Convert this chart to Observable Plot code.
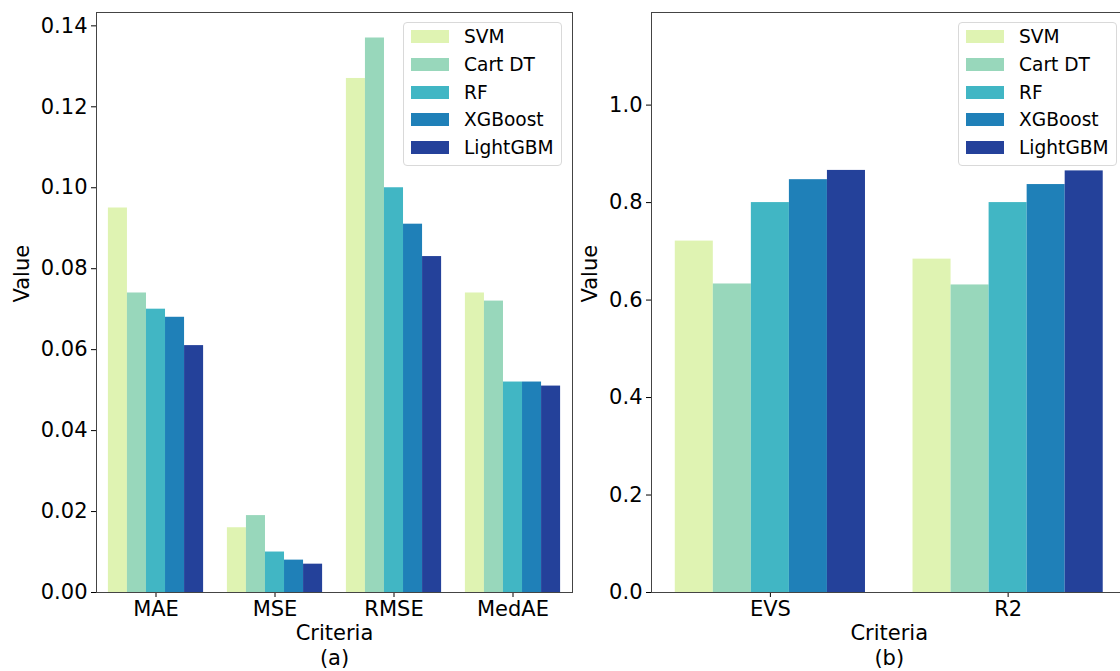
<!DOCTYPE html>
<html>
<head>
<meta charset="utf-8">
<script src="https://cdn.jsdelivr.net/npm/d3@7"></script>
<script src="https://cdn.jsdelivr.net/npm/@observablehq/plot@0.6"></script>
<style>
  html, body { margin: 0; padding: 0; background: #fff; overflow: hidden; }
  #root { position: relative; width: 1120px; height: 671px; overflow: hidden; font-family: "DejaVu Sans", sans-serif; }
  .panel { position: absolute; top: 0; width: 590px; height: 671px; }
  .panel svg { max-width: none !important; display: block; }
  .legend { position: absolute; border: 1px solid #d9d9d9; border-radius: 4px; background: rgba(255,255,255,0.85);
            box-sizing: border-box; padding: 0 0 0 7px; font-size: 18.6px; color: #000; }
  .legend .row { display: flex; align-items: center; height: 27.7px; }
  .legend .sw { width: 38px; height: 13px; margin-right: 15px; }
</style>
</head>
<body>
<div id="root"></div>
<script>
// ---- data ----
const models = ["SVM", "Cart DT", "RF", "XGBoost", "LightGBM"];
const colors = ["#dff3b2", "#98d7bb", "#41b6c4", "#1f80b8", "#24419a"];

const criteriaA = ["MAE", "MSE", "RMSE", "MedAE"];
const svmA      = [0.095, 0.016, 0.127, 0.074];
const cartA     = [0.074, 0.019, 0.137, 0.072];
const rfA       = [0.070, 0.010, 0.100, 0.052];
const xgbA      = [0.068, 0.008, 0.091, 0.052];
const lgbmA     = [0.061, 0.007, 0.083, 0.051];
const ticksA    = [0, 0.02, 0.04, 0.06, 0.08, 0.10, 0.12, 0.14];

const criteriaB = ["EVS", "R2"];
const svmB      = [0.721, 0.684];
const cartB     = [0.633, 0.631];
const rfB       = [0.800, 0.800];
const xgbB      = [0.847, 0.837];
const lgbmB     = [0.866, 0.865];
const ticksB    = [0, 0.2, 0.4, 0.6, 0.8, 1.0];

function rowsOf(criteria, seriesList) {
  const rows = [];
  seriesList.forEach((vals, mi) => vals.forEach((v, ci) =>
    rows.push({ci, mi, criterion: criteria[ci], model: models[mi], value: v})));
  return rows;
}

const barW = 0.8 / models.length;

function panel({criteria, series, yMax, yTicks, yFmt, width, marginLeft, marginRight, sub, valueDx}) {
  const rows = rowsOf(criteria, series);
  return Plot.plot({
    width, height: 671,
    marginTop: 12, marginBottom: 79, marginLeft, marginRight,
    style: {fontFamily: "DejaVu Sans, sans-serif", fontSize: "21px", color: "#000", background: "transparent", overflow: "visible", maxWidth: "none"},
    x: {domain: [-0.5, criteria.length - 0.5], ticks: criteria.map((_, i) => i), tickFormat: i => criteria[i],
        tickSize: 5, tickPadding: 4, label: null},
    y: {domain: [0, yMax], ticks: yTicks, tickFormat: yFmt, tickSize: 5, tickPadding: 4, label: null},
    color: {domain: models, range: colors},
    marks: [
      Plot.rect(rows, {
        x1: d => d.ci + (d.mi - models.length / 2) * barW,
        x2: d => d.ci + (d.mi - models.length / 2 + 1) * barW,
        y1: () => 0, y2: "value", fill: "model"
      }),
      Plot.frame({stroke: "#444", strokeWidth: 1}),
      Plot.text(["Criteria"], {text: d => d, frameAnchor: "bottom", dy: 47, fontSize: 21}),
      Plot.text([sub], {text: d => d, frameAnchor: "bottom", dy: 72, fontSize: 21}),
      Plot.text(["Value"], {text: d => d, frameAnchor: "left", dx: valueDx, rotate: -90, fontSize: 21})
    ]
  });
}

function legend(left, top) {
  const div = document.createElement("div");
  div.className = "legend";
  div.style.left = left + "px";
  div.style.top = top + "px";
  div.style.width = "159px";
  div.style.height = "144px";
  models.forEach((m, i) => {
    const r = document.createElement("div");
    r.className = "row";
    const s = document.createElement("div");
    s.className = "sw";
    s.style.background = colors[i];
    const t = document.createElement("span");
    t.textContent = m;
    r.appendChild(s); r.appendChild(t);
    div.appendChild(r);
  });
  return div;
}

const root = document.getElementById("root");

const a = panel({criteria: criteriaA, series: [svmA, cartA, rfA, xgbA, lgbmA], yMax: 0.1433, yTicks: ticksA,
  yFmt: d3.format(".2f"), width: 590, marginLeft: 96, marginRight: 18, sub: "(a)", valueDx: -74});
const wa = document.createElement("div"); wa.className = "panel"; wa.style.left = "0px"; wa.appendChild(a);
root.appendChild(wa);

const b = panel({criteria: criteriaB, series: [svmB, cartB, rfB, xgbB, lgbmB], yMax: 1.19, yTicks: ticksB,
  yFmt: d3.format(".1f"), width: 590, marginLeft: 91, marginRight: 23.5, sub: "(b)", valueDx: -61});
const wb = document.createElement("div"); wb.className = "panel"; wb.style.left = "560px"; wb.appendChild(b);
root.appendChild(wb);

root.appendChild(legend(403, 22));
root.appendChild(legend(958, 22));
</script>
</body>
</html>
